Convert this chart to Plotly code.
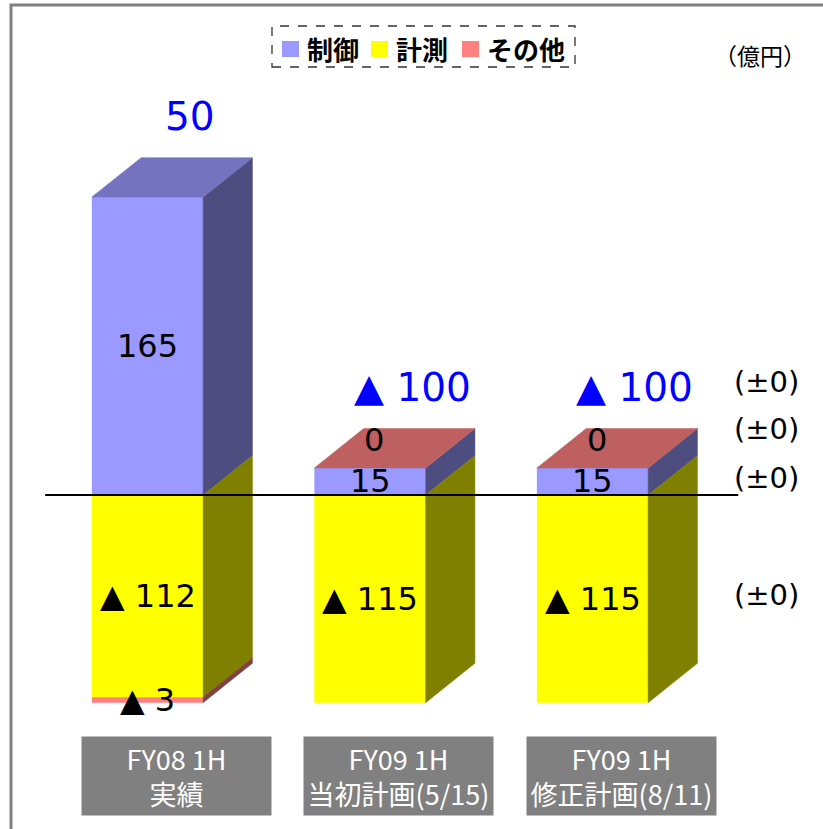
import plotly.graph_objects as go

# ---------------- data ----------------
categories = ["FY08 1H<br>実績", "FY09 1H<br>当初計画(5/15)", "FY09 1H<br>修正計画(8/11)"]
series_names = ["制御", "計測", "その他"]
seigyo = [165, 15, 15]
keisoku = [-112, -115, -115]
sonota = [-3, 0, 0]
unit_label = "（億円）"

series_values = [seigyo, keisoku, sonota]

# ---------------- styles ----------------
front_colors = ["#9999FF", "#FFFF00", "#FF8080"]
top_colors = ["#7373BF", "#BFBF00", "#BF6060"]
side_colors = ["#4D4D80", "#808000", "#804040"]
W, H = 823, 829
X_RANGE = [-147.5 / 222.5, (W - 147.5) / 222.5]
Y_RANGE = [-(H - 495) / 1.806, 495 / 1.806]
BAR_W = 0.5
DX, DY = 0.2216, 21.8
LABEL_FONT = "DejaVu Sans"
CJK_FONT = "Noto Sans CJK JP"


def px(x):
    return x / W


def py(y):
    return 1 - y / H


def fmt(v):
    if v < 0:
        return "▲ " + str(-v)
    return str(v)


def fmt_diff(d):
    if d == 0:
        return "(±0)"
    if d > 0:
        return "(+" + str(d) + ")"
    return "(▲" + str(-d) + ")"


fig = go.Figure()
annotations = []
shapes = []

# stack geometry
n = len(categories)
geom = [[None] * len(series_names) for _ in range(n)]
top_series = [0] * n
top_val = [0] * n
for i in range(n):
    pos, neg = 0, 0
    for s, vals in enumerate(series_values):
        v = vals[i]
        if v >= 0:
            y0, y1 = pos, pos + v
            pos = y1
            top_series[i] = s
        else:
            y0, y1 = neg + v, neg
            neg = y0
        geom[i][s] = (y0, y1)
    top_val[i] = pos

# front faces (bars)
for s, name in enumerate(series_names):
    bases = [geom[i][s][0] for i in range(n)]
    heights = [geom[i][s][1] - geom[i][s][0] for i in range(n)]
    fig.add_trace(go.Bar(
        x=list(range(n)), y=heights, base=bases, width=BAR_W,
        marker=dict(color=front_colors[s], line=dict(width=0)),
        name=name, showlegend=False, hoverinfo="skip"))

# side faces and top faces
for i in range(n):
    x1 = i + BAR_W / 2
    x0 = i - BAR_W / 2
    for s in range(len(series_names)):
        y0, y1 = geom[i][s]
        if y1 - y0 <= 0:
            continue
        fig.add_trace(go.Scatter(
            x=[x1, x1 + DX, x1 + DX, x1, x1],
            y=[y0, y0 + DY, y1 + DY, y1, y0],
            mode="lines", fill="toself", fillcolor=side_colors[s],
            line=dict(width=0.5, color=side_colors[s]),
            showlegend=False, hoverinfo="skip"))
    ts = top_series[i]
    yt = top_val[i]
    fig.add_trace(go.Scatter(
        x=[x0, x0 + DX, x1 + DX, x1, x0],
        y=[yt, yt + DY, yt + DY, yt, yt],
        mode="lines", fill="toself", fillcolor=top_colors[ts],
        line=dict(width=0.5, color=top_colors[ts]),
        showlegend=False, hoverinfo="skip"))

# segment labels
label_pos = [[None] * len(series_names) for _ in range(n)]
for i in range(n):
    for s, vals in enumerate(series_values):
        v = vals[i]
        y0, y1 = geom[i][s]
        if v == 0:
            ly, lx = y1 + DY * 0.7, i + 0.02
        else:
            ly, lx = (y0 + y1) / 2, i
        label_pos[i][s] = ly
        annotations.append(dict(
            x=lx, y=ly, xref="x", yref="y", text=fmt(v), showarrow=False,
            font=dict(family=LABEL_FONT, size=32, color="black")))

# totals
totals = [sum(vals[i] for vals in series_values) for i in range(n)]
for i in range(n):
    annotations.append(dict(
        x=i + 0.19, y=top_val[i] + DY + 23, xref="x", yref="y",
        text=fmt(totals[i]), showarrow=False,
        font=dict(family=LABEL_FONT, size=39, color="#0000FF")))

# differences between last two bars
last, prev = n - 1, n - 2
DIFF_X = (766 - 147.5) / 222.5
annotations.append(dict(
    x=DIFF_X, y=top_val[last] + DY + 26, xref="x", yref="y",
    text=fmt_diff(totals[last] - totals[prev]), showarrow=False,
    font=dict(family=LABEL_FONT, size=29, color="black")))
for s, vals in enumerate(series_values):
    y0, y1 = geom[last][s]
    ly = y1 + DY * 1.0 if vals[last] == 0 else label_pos[last][s] + 2
    annotations.append(dict(
        x=DIFF_X, y=ly, xref="x", yref="y",
        text=fmt_diff(vals[last] - vals[prev]), showarrow=False,
        font=dict(family=LABEL_FONT, size=29, color="black")))

# category boxes
for i, c in enumerate(categories):
    annotations.append(dict(
        x=i + 0.13, y=py(776), xref="x", yref="paper", text=c, showarrow=False,
        xanchor="center", yanchor="middle",
        width=189, height=78, bgcolor="#808080", borderpad=0,
        font=dict(family="Liberation Sans Narrow, " + CJK_FONT, size=27, color="white")))

# zero line
shapes.append(dict(type="line", xref="x", yref="y", x0=-0.46, x1=2.655, y0=0, y1=0,
                   line=dict(color="black", width=2), layer="above"))

# legend (manual)
legend_sq_x = [282, 371, 462]
for s, name in enumerate(series_names):
    shapes.append(dict(type="rect", xref="paper", yref="paper",
                       x0=px(legend_sq_x[s]), x1=px(legend_sq_x[s] + 17),
                       y0=py(57), y1=py(41), fillcolor=front_colors[s],
                       line=dict(width=0)))
    annotations.append(dict(x=px(legend_sq_x[s] + 23), y=py(48), xref="paper", yref="paper",
                            xanchor="left", yanchor="middle", text="<b>" + name + "</b>",
                            showarrow=False,
                            font=dict(family=CJK_FONT, size=26, color="black")))
shapes.append(dict(type="rect", xref="paper", yref="paper",
                   x0=px(272), x1=px(575), y0=py(67), y1=py(26),
                   line=dict(color="#333333", width=1.3, dash="dash")))

# unit
annotations.append(dict(x=px(760), y=py(55), xref="paper", yref="paper", text=unit_label,
                        xanchor="center", yanchor="middle",
                        showarrow=False, font=dict(family=CJK_FONT, size=23, color="black")))

# outer frame
shapes.append(dict(type="rect", xref="paper", yref="paper",
                   x0=px(11), x1=px(W + 20), y0=py(H + 20), y1=py(5),
                   line=dict(color="#808080", width=3)))

fig.update_layout(
    width=W, height=H, margin=dict(l=0, r=0, t=0, b=0),
    paper_bgcolor="white", plot_bgcolor="white",
    barmode="overlay", showlegend=False,
    xaxis=dict(range=X_RANGE, visible=False, fixedrange=True),
    yaxis=dict(range=Y_RANGE, visible=False, fixedrange=True),
    annotations=annotations, shapes=shapes,
)

fig.write_html("out.html", config={"displayModeBar": False},
               post_script="document.body.style.margin='0';")
